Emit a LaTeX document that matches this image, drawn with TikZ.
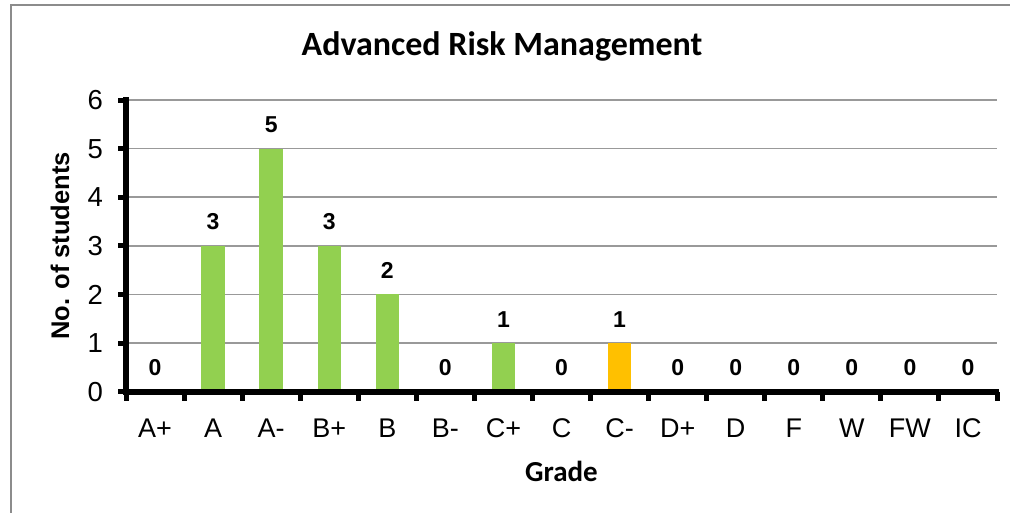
\documentclass[tikz,border=0pt]{standalone}
\usepackage{fontspec}
\setmainfont{Liberation Sans}
\newfontfamily\calfont{Carlito}
\definecolor{bargreen}{HTML}{92D050}
\definecolor{barorange}{HTML}{FFC000}
\definecolor{gridgray}{HTML}{999999}
\definecolor{framegray}{HTML}{8C8C8C}
\begin{document}
\begin{tikzpicture}[x=1pt,y=-1pt,
  grid/.style={draw=gridgray,line width=1.6pt},
  axisline/.style={draw=black,line width=6pt},
  tickmark/.style={draw=black,line width=5pt},
  ylab/.style={anchor=east,inner sep=0pt,font=\fontsize{27.5}{27.5}\selectfont},
  xlab/.style={anchor=center,inner sep=0pt,font=\fontsize{27}{27}\selectfont},
  vlab/.style={anchor=center,inner sep=0pt,font=\fontsize{23}{23}\selectfont\bfseries},
  bargreen/.style={fill=bargreen,draw=none},
  barorange/.style={fill=barorange,draw=none}]
\useasboundingbox (0,0) rectangle (1010,513);
\fill[white] (0,0) rectangle (1010,513);
% frame
\draw[framegray,line width=2pt] (11,513) -- (11,5.5) -- (1010,5.5);
% title
\node[inner sep=0pt,font=\calfont\fontsize{34}{34}\selectfont\bfseries] (title) at (502,46) {Advanced Risk Management};
% gridlines
\foreach \k in {1,...,6}{
  \draw[grid] (126,{391.7-48.6*\k}) -- (997,{391.7-48.6*\k});
}
% bars
\def\yz{391.7}
\def\cw{58.07}
\foreach \i/\v/\c/\g in {0/0/bargreen/A+,1/3/bargreen/A,2/5/bargreen/A-,3/3/bargreen/B+,4/2/bargreen/B,5/0/bargreen/B-,6/1/bargreen/C+,7/0/bargreen/C,8/1/barorange/C-,9/0/bargreen/D+,10/0/bargreen/D,11/0/bargreen/F,12/0/bargreen/W,13/0/bargreen/FW,14/0/bargreen/IC}{
  \pgfmathsetmacro{\xc}{126+\cw*(\i+0.5)}
  \pgfmathsetmacro{\yt}{\yz-48.6*\v}
  \ifnum\v>0
    \fill[\c] ({\xc-11.7},\yz) rectangle ({\xc+11.7},\yt);
  \fi
  \node[vlab] (v\i) at (\xc,{\yt-24}) {\v};
  \node[xlab] (x\i) at (\xc,428) {\g};
}
% axes
\draw[axisline] (126,394.7) -- (126,97);
\draw[axisline] (123,391.7) -- (999,391.7);
% y ticks
\foreach \k in {0,...,6}{
  \draw[tickmark] (118,{391.7-48.6*\k}) -- (127,{391.7-48.6*\k});
  \node[ylab] (y\k) at (103,{391.7-48.6*\k}) {\k};
}
% x ticks
\foreach \i in {0,...,15}{
  \draw[tickmark] ({126+58.07*\i},392) -- ({126+58.07*\i},400.5);
}
% axis titles
\node[rotate=90,inner sep=0pt,font=\fontsize{25.5}{25.5}\selectfont\bfseries] (ytitle) at (60,246) {No. of students};
\node[inner sep=0pt,font=\calfont\fontsize{29}{29}\selectfont\bfseries] (xtitle) at (561.5,471) {Grade};
\end{tikzpicture}
\end{document}
